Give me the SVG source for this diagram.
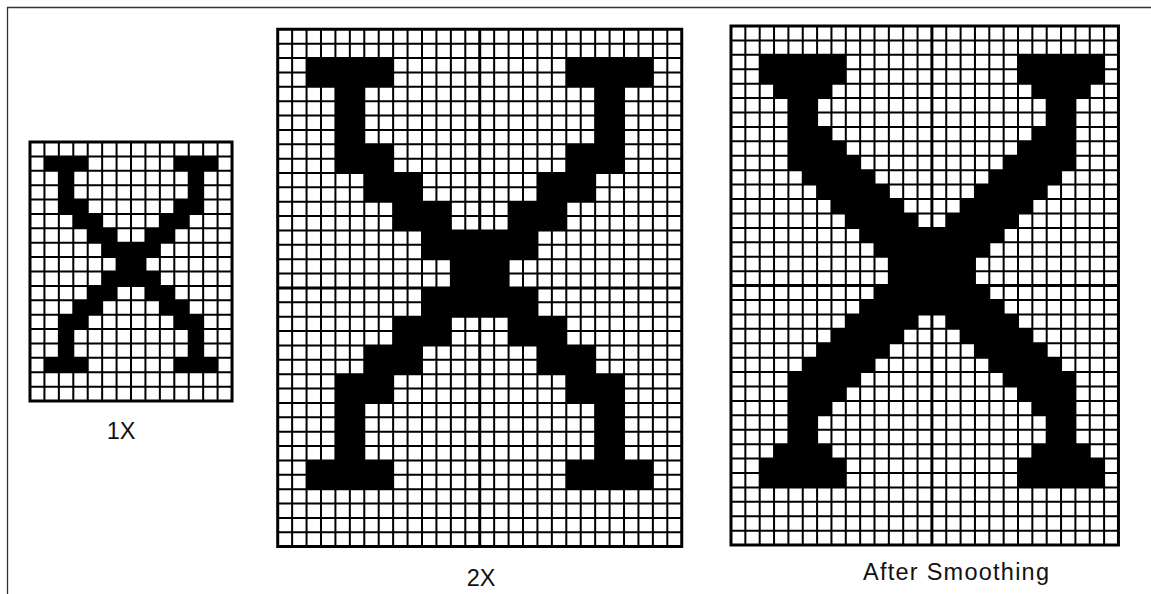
<svg xmlns="http://www.w3.org/2000/svg" xmlns:xlink="http://www.w3.org/1999/xlink" width="1151" height="594" viewBox="0 0 1151 594">
<style>
.bg{fill:#fff}
.grid{fill:none;stroke:#000;stroke-width:2}
.border{fill:none;stroke:#000;stroke-width:3}
.axis{fill:none;stroke:#000;stroke-width:3}
.ink{fill:#000}
.lbl{font-family:"Liberation Sans",Arial,sans-serif;font-size:23.5px;fill:#111}
</style>
<defs>
<g id="xshape" class="ink">
<rect x="1" y="1" width="3" height="1"/><rect x="10" y="1" width="3" height="1"/>
<rect x="2" y="2" width="1" height="2"/><rect x="11" y="2" width="1" height="2"/>
<rect x="2" y="4" width="2" height="1"/><rect x="10" y="4" width="2" height="1"/>
<rect x="3" y="5" width="2" height="1"/><rect x="9" y="5" width="2" height="1"/>
<rect x="4" y="6" width="2" height="1"/><rect x="8" y="6" width="2" height="1"/>
<rect x="5" y="7" width="4" height="1"/>
<rect x="6" y="8" width="2" height="1"/>
<rect x="5" y="9" width="4" height="1"/>
<rect x="4" y="10" width="2" height="1"/><rect x="8" y="10" width="2" height="1"/>
<rect x="3" y="11" width="2" height="1"/><rect x="9" y="11" width="2" height="1"/>
<rect x="2" y="12" width="2" height="1"/><rect x="10" y="12" width="2" height="1"/>
<rect x="2" y="13" width="1" height="2"/><rect x="11" y="13" width="1" height="2"/>
<rect x="1" y="15" width="3" height="1"/><rect x="10" y="15" width="3" height="1"/>
</g>
</defs>
<rect class="bg" x="0" y="0" width="1151" height="594"/>
<path d="M7.5 594V7.5H1151" fill="none" stroke="#333" stroke-width="1.3"/>

<g id="grid1x">
<g transform="translate(30,142) scale(14.43,14.39)">
<rect class="bg" x="0" y="0" width="14" height="18"/>
<use href="#xshape"/>
<path class="grid" vector-effect="non-scaling-stroke" d="M1 0V18M2 0V18M3 0V18M4 0V18M5 0V18M6 0V18M7 0V18M8 0V18M9 0V18M10 0V18M11 0V18M12 0V18M13 0V18M0 1H14M0 2H14M0 3H14M0 4H14M0 5H14M0 6H14M0 7H14M0 8H14M0 9H14M0 10H14M0 11H14M0 12H14M0 13H14M0 14H14M0 15H14M0 16H14M0 17H14"/>
<rect class="border" vector-effect="non-scaling-stroke" x="0" y="0" width="14" height="18"/>
</g>
<text class="lbl" x="121" y="439" text-anchor="middle">1X</text>
</g>

<g id="grid2x">
<g transform="translate(277.7,29.3) scale(14.43,14.37)">
<rect class="bg" x="0" y="0" width="28" height="36"/>
<use href="#xshape" transform="scale(2)"/>
<path class="grid" vector-effect="non-scaling-stroke" d="M1 0V36M2 0V36M3 0V36M4 0V36M5 0V36M6 0V36M7 0V36M8 0V36M9 0V36M10 0V36M11 0V36M12 0V36M13 0V36M15 0V36M16 0V36M17 0V36M18 0V36M19 0V36M20 0V36M21 0V36M22 0V36M23 0V36M24 0V36M25 0V36M26 0V36M27 0V36M0 1H28M0 2H28M0 3H28M0 4H28M0 5H28M0 6H28M0 7H28M0 8H28M0 9H28M0 10H28M0 11H28M0 12H28M0 13H28M0 14H28M0 15H28M0 16H28M0 17H28M0 19H28M0 20H28M0 21H28M0 22H28M0 23H28M0 24H28M0 25H28M0 26H28M0 27H28M0 28H28M0 29H28M0 30H28M0 31H28M0 32H28M0 33H28M0 34H28M0 35H28"/>
<path class="axis" vector-effect="non-scaling-stroke" d="M14 0V36M0 18H28"/>
<rect class="border" vector-effect="non-scaling-stroke" x="0" y="0" width="28" height="36"/>
</g>
<text class="lbl" x="481" y="586" text-anchor="middle">2X</text>
</g>

<g id="gridsmooth">
<g transform="translate(731,26) scale(14.35,14.42)">
<rect class="bg" x="0" y="0" width="27" height="36"/>
<g class="ink">
<rect x="2" y="2" width="6" height="2"/><rect x="20" y="2" width="6" height="2"/>
<rect x="3" y="4" width="4" height="1"/><rect x="21" y="4" width="4" height="1"/>
<rect x="4" y="5" width="2" height="2"/><rect x="22" y="5" width="2" height="2"/>
<rect x="4" y="7" width="3" height="1"/><rect x="21" y="7" width="3" height="1"/>
<rect x="4" y="8" width="4" height="1"/><rect x="20" y="8" width="4" height="1"/>
<rect x="4" y="9" width="5" height="1"/><rect x="19" y="9" width="5" height="1"/>
<rect x="5" y="10" width="5" height="1"/><rect x="18" y="10" width="5" height="1"/>
<rect x="6" y="11" width="5" height="1"/><rect x="17" y="11" width="5" height="1"/>
<rect x="7" y="12" width="5" height="1"/><rect x="16" y="12" width="5" height="1"/>
<rect x="8" y="13" width="5" height="1"/><rect x="15" y="13" width="5" height="1"/>
<rect x="9" y="14" width="10" height="1"/>
<rect x="10" y="15" width="8" height="1"/>
<rect x="11" y="16" width="6" height="2"/>
<rect x="10" y="18" width="8" height="1"/>
<rect x="9" y="19" width="10" height="1"/>
<rect x="8" y="20" width="5" height="1"/><rect x="15" y="20" width="5" height="1"/>
<rect x="7" y="21" width="5" height="1"/><rect x="16" y="21" width="5" height="1"/>
<rect x="6" y="22" width="5" height="1"/><rect x="17" y="22" width="5" height="1"/>
<rect x="5" y="23" width="5" height="1"/><rect x="18" y="23" width="5" height="1"/>
<rect x="4" y="24" width="5" height="1"/><rect x="19" y="24" width="5" height="1"/>
<rect x="4" y="25" width="4" height="1"/><rect x="20" y="25" width="4" height="1"/>
<rect x="4" y="26" width="3" height="1"/><rect x="21" y="26" width="3" height="1"/>
<rect x="4" y="27" width="2" height="2"/><rect x="22" y="27" width="2" height="2"/>
<rect x="3" y="29" width="4" height="1"/><rect x="21" y="29" width="4" height="1"/>
<rect x="2" y="30" width="6" height="2"/><rect x="20" y="30" width="6" height="2"/>
</g>
<path class="grid" vector-effect="non-scaling-stroke" d="M1 0V36M2 0V36M3 0V36M4 0V36M5 0V36M6 0V36M7 0V36M8 0V36M9 0V36M10 0V36M11 0V36M12 0V36M13 0V36M15 0V36M16 0V36M17 0V36M18 0V36M19 0V36M20 0V36M21 0V36M22 0V36M23 0V36M24 0V36M25 0V36M26 0V36M0 1H27M0 2H27M0 3H27M0 4H27M0 5H27M0 6H27M0 7H27M0 8H27M0 9H27M0 10H27M0 11H27M0 12H27M0 13H27M0 14H27M0 15H27M0 16H27M0 17H27M0 19H27M0 20H27M0 21H27M0 22H27M0 23H27M0 24H27M0 25H27M0 26H27M0 27H27M0 28H27M0 29H27M0 30H27M0 31H27M0 32H27M0 33H27M0 34H27M0 35H27"/>
<path class="axis" vector-effect="non-scaling-stroke" d="M14 0V36M0 18H27"/>
<rect class="border" vector-effect="non-scaling-stroke" x="0" y="0" width="27" height="36"/>
</g>
<text class="lbl" x="956" y="580" text-anchor="middle" textLength="186" lengthAdjust="spacing">After Smoothing</text>
</g>
</svg>
